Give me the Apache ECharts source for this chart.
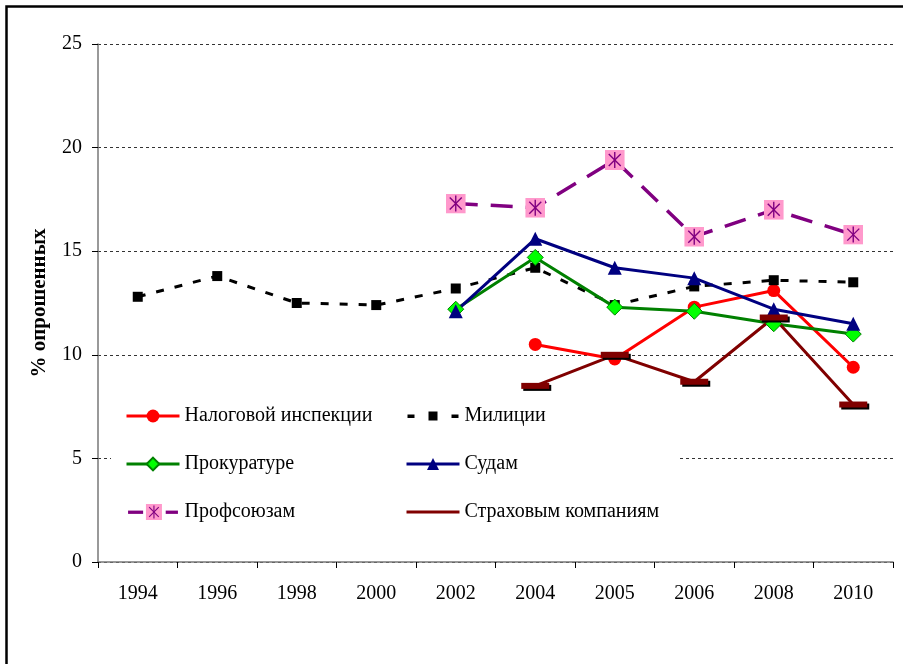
<!DOCTYPE html>
<html>
<head>
<meta charset="utf-8">
<script src="https://cdn.jsdelivr.net/npm/echarts@6/dist/echarts.min.js"></script>
<style>html,body{margin:0;padding:0;background:#fff}#c{width:903px;height:664px}</style>
</head>
<body>
<div id="c"></div>
<script>
var years = ['1994','1996','1998','2000','2002','2004','2005','2006','2008','2010'];
var yTicks = [0, 5, 10, 15, 20, 25];
var nalog   = [null, null, null, null, null, 10.5, 9.8, 12.3, 13.1, 9.4];
var militsii = [12.8, 13.8, 12.5, 12.4, 13.2, 14.2, 12.4, 13.3, 13.6, 13.5];
var prokur  = [null, null, null, null, 12.2, 14.7, 12.3, 12.1, 11.5, 11.0];
var sudam   = [null, null, null, null, 12.1, 15.6, 14.2, 13.7, 12.2, 11.5];
var profs   = [null, null, null, null, 17.3, 17.1, 19.4, 15.7, 17.0, 15.8];
var strakh  = [null, null, null, null, null, 8.5, 10.0, 8.7, 11.8, 7.6];
var names = ['Налоговой инспекции','Милиции','Прокуратуре','Судам','Профсоюзам','Страховым компаниям'];
var yName = '% опрошенных';

var FONT = 'Liberation Serif';
function svgUri(s) { return 'image://data:image/svg+xml;utf8,' + encodeURIComponent(s); }
var star = '<g stroke="#800080" stroke-width="1.4" fill="none">' +
  '<line x1="10" y1="2" x2="10" y2="18"/><line x1="4" y1="4" x2="16" y2="16"/><line x1="16" y1="4" x2="4" y2="16"/></g>';
var profSymbol = svgUri('<svg xmlns="http://www.w3.org/2000/svg" width="20" height="20" viewBox="0 0 20 20">' +
  '<rect x="0" y="0" width="20" height="20" fill="#FF99CC"/>' + star + '</svg>');
var profLegendIcon = svgUri('<svg xmlns="http://www.w3.org/2000/svg" width="53" height="17" viewBox="0 0 53 17" preserveAspectRatio="none">' +
  '<rect x="0" y="7" width="16" height="3.5" fill="#800080"/>' +
  '<rect x="40" y="7" width="13" height="3.5" fill="#800080"/>' +
  '<g transform="translate(19,0) scale(0.85)"><rect x="0" y="0" width="20" height="20" fill="#FF99CC"/>' + star + '</g></svg>');
var milLegendIcon = svgUri('<svg xmlns="http://www.w3.org/2000/svg" width="53" height="15" viewBox="0 0 53 15" preserveAspectRatio="none">' +
  '<rect x="1" y="6" width="7" height="3.5" fill="#000"/>' +
  '<rect x="22" y="3" width="9" height="9" fill="#000"/>' +
  '<rect x="45" y="6" width="7" height="3.5" fill="#000"/></svg>');

var legendCommon = {
  orient: 'vertical', top: 406, padding: 0,
  itemWidth: 53, itemGap: 28, z: 5,
  lineStyle: {width: 3},
  textStyle: {fontFamily: FONT, fontSize: 20, color: '#000', lineHeight: 20}
};

var chart = echarts.init(document.getElementById('c'), null, {renderer: 'canvas'});
chart.setOption({
  animation: false,
  backgroundColor: '#fff',
  textStyle: {fontFamily: FONT},
  grid: {left: 98, right: 10, top: 44, bottom: 102, containLabel: false},
  graphic: [
    {type: 'rect', left: 4, top: 4, shape: {width: 1000, height: 1000}, style: {fill: 'none', stroke: '#000', lineWidth: 2.5}, z: 0, silent: true},
    {type: 'rect', shape: {x: 111, y: 389, width: 566, height: 142}, style: {fill: '#fff'}, z: 3, silent: true}
  ],
  legend: [
    Object.assign({}, legendCommon, {itemHeight: 16, left: 125,
      data: [names[0], names[2], {name: names[4], icon: profLegendIcon}]}),
    Object.assign({}, legendCommon, {itemHeight: 15, left: 405,
      data: [{name: names[1], icon: milLegendIcon}, names[3], {name: names[5], icon: 'path://M0,0H53V3H0Z'}]})
  ],
  xAxis: {
    type: 'category', data: years, boundaryGap: true,
    axisLine: {lineStyle: {color: '#777', width: 1.5}},
    axisTick: {show: true, length: 6, lineStyle: {color: '#000'}},
    axisLabel: {fontFamily: FONT, fontSize: 20, color: '#000', margin: 22},
    splitLine: {show: false}
  },
  yAxis: {
    type: 'value', min: yTicks[0], max: yTicks[yTicks.length - 1], interval: 5,
    name: yName, nameLocation: 'middle', nameGap: 48, nameRotate: 90,
    nameTextStyle: {fontFamily: FONT, fontSize: 21, fontWeight: 'bold', color: '#000'},
    axisLine: {show: true, lineStyle: {color: '#777', width: 1.5}},
    axisTick: {show: true, length: 6, lineStyle: {color: '#000'}},
    axisLabel: {fontFamily: FONT, fontSize: 20, color: '#000', margin: 16},
    splitLine: {show: true, lineStyle: {color: '#333', type: [3, 3], width: 1}}
  },
  series: [
    {name: names[0], type: 'line', data: nalog, symbol: 'circle', symbolSize: 13,
      lineStyle: {color: '#FF0000', width: 3}, itemStyle: {color: '#FF0000'}},
    {name: names[1], type: 'line', data: militsii, symbol: 'rect', symbolSize: 10,
      lineStyle: {color: '#000', width: 3, type: [8, 11]}, itemStyle: {color: '#000'}},
    {name: names[2], type: 'line', data: prokur, symbol: 'diamond', symbolSize: 16,
      lineStyle: {color: '#008000', width: 3}, itemStyle: {color: '#00FF00', borderColor: '#008000', borderWidth: 1}},
    {name: names[3], type: 'line', data: sudam, symbol: 'triangle', symbolSize: 14,
      lineStyle: {color: '#000080', width: 3}, itemStyle: {color: '#000080'}},
    {name: names[4], type: 'line', data: profs, symbol: profSymbol, symbolSize: 20,
      lineStyle: {color: '#800080', width: 3.5, type: [22, 13]}, itemStyle: {color: '#800080'}},
    {name: names[5], type: 'line', data: strakh, symbol: 'rect', symbolSize: [28, 6],
      lineStyle: {color: '#800000', width: 3}, itemStyle: {color: '#800000', shadowColor: '#000', shadowOffsetX: 2, shadowOffsetY: 2, shadowBlur: 0}}
  ]
});
</script>
</body>
</html>
